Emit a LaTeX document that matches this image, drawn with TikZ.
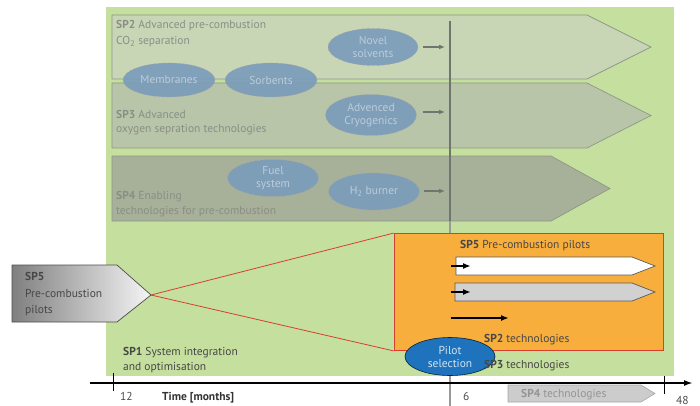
\documentclass[tikz,border=0pt]{standalone}
\usepackage{fontspec}
\setmainfont{PT Sans}
\usetikzlibrary{arrows.meta,shapes.geometric}

\definecolor{sp1green}{HTML}{C5DF9E}
\definecolor{sp2fill}{HTML}{C9D6B6}
\definecolor{sp3fill}{HTML}{B9C5A9}
\definecolor{sp4fill}{HTML}{A7B098}
\definecolor{bandline}{HTML}{8E9886}
\definecolor{bandtext}{HTML}{8A8E86}
\definecolor{bubblefill}{HTML}{7B9CBA}
\definecolor{bubbletext}{HTML}{BCCCDC}
\definecolor{pilotorange}{HTML}{F8AE3C}
\definecolor{pilotred}{HTML}{D8402E}
\definecolor{pilotblue}{HTML}{1E73BC}
\definecolor{axisgray}{HTML}{717570}

\tikzset{
  txt/.style={anchor=base west, inner sep=0pt, font=\fontsize{11.5}{13}\selectfont},
  bandtxt/.style={txt, text=bandtext},
  darktxt/.style={txt, text=black!72},
  bubble/.style={ellipse, draw=black!35, densely dashed, line width=0.4pt,
    fill=bubblefill, fill opacity=0.92, text opacity=1, text=bubbletext,
    align=center, inner sep=0pt, font=\fontsize{11.5}{13}\selectfont},
  band/.style={draw=bandline, line width=0.7pt},
  bandarrow/.style={draw=axisgray, line width=1.8pt,
    -{Latex[length=6pt,width=5pt]}},
  pilotarrow/.style={draw=black, line width=2pt,
    -{Latex[length=8pt,width=6pt]}},
  lane/.style={draw=black!65, line width=0.7pt},
}

\begin{document}
\begin{tikzpicture}[x=1pt,y=-1pt]
\useasboundingbox (0,0) rectangle (700,406);

% SP1 background area
\fill[sp1green] (106,7) rectangle (674,376);

% sub-project bands
\path[band, fill=sp2fill] (112,15) -- (587,15) -- (651,47) -- (587,79) -- (112,79) -- cycle;
\path[band, fill=sp3fill] (112,83) -- (587,83) -- (651,115.5) -- (587,148) -- (112,148) -- cycle;
\path[band, fill=sp4fill] (112,156) -- (551,156) -- (610,188.5) -- (551,221) -- (112,221) -- cycle;

% band labels
\node[bandtxt] (sp2a) at (116,29) {\textbf{SP2} Advanced pre-combustion};
\node[bandtxt] (sp2b) at (116,45) {CO\textsubscript{2} separation};
\node[bandtxt] (sp3a) at (116,119) {\textbf{SP3} Advanced};
\node[bandtxt] (sp3b) at (116,133) {oxygen sepration technologies};
\node[bandtxt] (sp4a) at (116,199) {\textbf{SP4} Enabling};
\node[bandtxt] (sp4b) at (116,214) {technologies for pre-combustion};

% milestone line at month 6
\draw[axisgray, line width=2.2pt] (450,21) -- (450,221);
\draw[black!40, line width=1.8pt] (450,221) -- (450,406);

% technology bubbles
\node[bubble, minimum width=90pt, minimum height=37pt] (solv) at (373,47) {Novel\\solvents};
\node[bubble, minimum width=92pt, minimum height=34pt] (memb) at (169,80) {Membranes};
\node[bubble, minimum width=92pt, minimum height=34pt] (sorb) at (271,80) {Sorbents};
\node[bubble, minimum width=91pt, minimum height=41pt] (cryo) at (371,115) {Advenced\\Cryogenics};
\node[bubble, minimum width=91pt, minimum height=37pt] (fuel) at (273,178) {Fuel\\system};
\node[bubble, minimum width=91pt, minimum height=37pt] (htwo) at (374,191.5) {H\textsubscript{2} burner};

\coordinate (solvend) at (445,47);
\coordinate (cryoend) at (445,112);
\coordinate (htwoend) at (445,191);
\draw[bandarrow] ([xshift=5pt]solv.east |- solvend) -- (solvend);
\draw[bandarrow] ([xshift=6pt]cryo.east |- cryoend) -- (cryoend);
\draw[bandarrow] ([xshift=4pt]htwo.east |- htwoend) -- (htwoend);

% SP5 pilot box
\node[draw=pilotred, line width=0.8pt, fill=pilotorange, minimum width=269pt,
      minimum height=117pt, inner sep=0pt] (pilots) at (528.5,292) {};
\node[darktxt] (sp5t) at (460,248) {\textbf{SP5} Pre-combustion pilots};

% pilot lanes
\path[lane, fill=white] (456,257) -- (632,257) -- (655,266) -- (632,275) -- (456,275) -- cycle;
\path[lane, fill=black!18] (455,283) -- (632,283) -- (655,292) -- (632,301) -- (455,301) -- cycle;
\coordinate (laneA0) at (451,266);
\coordinate (laneA1) at (471,266);
\coordinate (laneB0) at (451,292);
\coordinate (laneB1) at (471,292);
\coordinate (laneC0) at (451,318);
\coordinate (laneC1) at (509,318);
\draw[pilotarrow] (laneA0) -- (laneA1);
\draw[pilotarrow] (laneB0) -- (laneB1);
\draw[pilotarrow, line width=2.4pt] (laneC0) -- (laneC1);

% pilot selection milestone
\node[ellipse, draw=black!70!pilotblue, line width=0.6pt, fill=pilotblue,
      minimum width=90pt, minimum height=38pt, inner sep=0pt, align=center,
      text=white!80!pilotblue, font=\fontsize{11.5}{13}\selectfont] (select) at (450,356.5) {Pilot\\selection};

\node[darktxt] (sp2tech) at (484,342) {\textbf{SP2} technologies};
\node[darktxt] (sp3tech) at (484,368) {\textbf{SP3} technologies};

% SP1 label
\node[darktxt] (sp1a) at (123,355) {\textbf{SP1} System integration};
\node[darktxt] (sp1b) at (123,370) {and optimisation};

% SP5 overview tag
\path[draw=black!70, line width=0.7pt, left color=black!50, right color=black!4]
  (12,265) -- (117,265) -- (151,295) -- (117,322) -- (12,322) -- cycle;
\coordinate (sp5tip) at (151,295);
\node[darktxt] (sp5a) at (25,280) {\textbf{SP5}};
\node[darktxt] (sp5b) at (25,297) {Pre-combustion};
\node[darktxt] (sp5c) at (25,313) {pilots};
\draw[pilotred, line width=0.8pt] (sp5tip) -- (pilots.north west);
\draw[pilotred, line width=0.8pt] (sp5tip) -- (pilots.south west);

% time axis
\coordinate (axstart) at (90,383);
\coordinate (axend) at (693,383);
\draw[black, line width=1.8pt, -{Latex[length=9pt,width=6pt]}] (axstart) -- (axend);
\draw[black, line width=0.8pt] (113,373) -- (113,391);
\draw[black, line width=0.8pt] (664,376) -- (664,394);
\node[txt, text=black!70] (m12) at (120,400) {12};
\node[txt, text=black!80] (tlabel) at (162,400) {\textbf{Time [months]}};
\node[txt, text=black!70] (m6) at (463,400) {6};
\node[txt, text=black!70] (m48) at (676,404) {48};

% SP4 technologies on the axis
\path[draw=black!35, line width=0.6pt, fill=black!20]
  (508,385) -- (641,385) -- (655,393.5) -- (641,402) -- (508,402) -- cycle;
\node[txt, text=black!42] (sp4tech) at (521,397) {\textbf{SP4} technologies};
\end{tikzpicture}
\end{document}
